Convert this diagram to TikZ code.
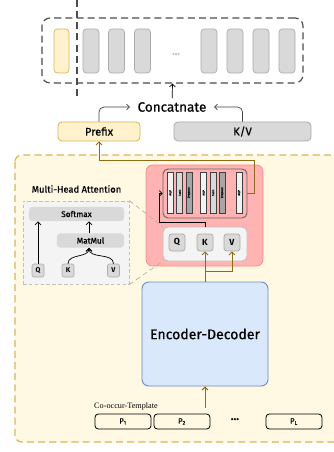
\documentclass[tikz,border=0pt]{standalone}
\usepackage{fontspec}
\setmainfont{Fira Sans}[UprightFeatures={FakeBold=0.6}]
\newfontfamily\timesfont{Liberation Serif}
\usepackage{tikz}
\usetikzlibrary{arrows.meta,positioning}
\usepackage{xcolor}
\definecolor{ylfill}{HTML}{FFF2CC}
\definecolor{yldraw}{HTML}{D6B656}
\definecolor{regfill}{HTML}{FFF8E3}
\definecolor{gyfill}{HTML}{D9D9D9}
\definecolor{gydraw}{HTML}{ABABAB}
\definecolor{rdfill}{HTML}{FFB3B3}
\definecolor{rddraw}{HTML}{FF8A8A}
\definecolor{blfill}{HTML}{DAE8FC}
\definecolor{bldraw}{HTML}{6C8EBF}
\definecolor{brown}{HTML}{8F6B14}
\definecolor{lgfill}{HTML}{F4F4F4}

\begin{document}
\begin{tikzpicture}[
  x=0.03cm, y=-0.03cm,
  slot/.style={draw=gydraw, fill=gyfill, rounded corners=1mm, line width=0.6pt,
               minimum width=0.48cm, minimum height=1.32cm},
  hlslot/.style={slot, draw=yldraw, fill=ylfill, minimum width=0.45cm},
  ybox/.style={draw=yldraw, fill=ylfill, rounded corners=1.2mm, line width=0.7pt,
               minimum height=0.57cm, font=\fontsize{9.5}{11}\selectfont},
  gbox/.style={draw=gydraw, fill=gyfill, rounded corners=1.2mm, line width=0.7pt,
               minimum height=0.57cm, font=\fontsize{9.5}{11}\selectfont},
  bar/.style={draw=black!75, line width=0.4pt, rotate=90, inner sep=0pt,
              minimum width=1.23cm, minimum height=0.18cm,
              font=\fontsize{2.5}{3}\selectfont},
  qbox/.style={draw=gydraw, fill=gyfill, rounded corners=0.8mm, line width=0.6pt,
               minimum width=0.48cm, minimum height=0.51cm, inner sep=0pt,
               font=\fontsize{7.5}{8}\selectfont\bfseries},
  sbox/.style={fill=gyfill, rounded corners=1mm, inner sep=0pt,
               minimum height=0.43cm, font=\fontsize{7}{8}\selectfont},
  tbox/.style={draw=gydraw, fill=gyfill, rounded corners=0.6mm, line width=0.5pt,
               minimum width=0.36cm, minimum height=0.39cm, inner sep=0pt,
               font=\fontsize{6}{7}\selectfont\bfseries},
  pbox/.style={draw, line width=0.7pt, rounded corners=1mm, inner sep=0pt,
               minimum width=1.68cm, minimum height=0.45cm,
               font=\fontsize{6.5}{7}\selectfont},
  arr/.style={draw, line width=0.6pt, -{Straight Barb[length=2.5pt,width=5pt]}},
  barr/.style={arr, brown, line width=0.8pt}
]
\useasboundingbox (0,0) rectangle (333,452);

\draw[yldraw, fill=regfill, line width=1pt, dash pattern=on 6pt off 3.5pt,
  rounded corners=2mm] (15,155) rectangle (350,442);

\node[draw=black!70, line width=1pt, dash pattern=on 6pt off 3.5pt,
  rounded corners=2.4mm, minimum width=7.83cm, minimum height=1.95cm]
  (seq) at (172.5,50.5) {};
\node[hlslot] (s0) at (61.5,51) {};
\foreach \x [count=\i] in {91,116.5,142.5,209,235,261,287}
  \node[slot] (s\i) at (\x,51) {};
\node[text=black!35, font=\small] (dots) at (176,54) {...};
\draw[black!70, line width=1pt, dash pattern=on 6pt off 3.5pt] (77,0) -- (77,99);

\node[font=\fontsize{11.5}{13}\selectfont] (concat) at (172,107) {Concatnate};
\node[ybox, minimum width=2.46cm] (prefix) at (99,131.5) {Prefix};
\node[gbox, minimum width=4.11cm] (kv) at (242.5,131.5) {K/V};

\draw[arr] (concat) -- (seq.south);
\draw[arr, black!75, rounded corners=1.5mm] (prefix.north) |- ([xshift=-3pt]concat.west);
\draw[arr, black!75, rounded corners=1.5mm] (kv.north) |- ([xshift=3pt]concat.east);

\node[font=\fontsize{8}{9}\selectfont] (mhatitle) at (76.5,189) {Multi-Head Attention};
\node[draw=black!25, fill=lgfill, dash pattern=on 3pt off 2pt, line width=0.7pt,
  minimum width=3.18cm, minimum height=2.49cm] (panel) at (76,242.5) {};
\node[sbox, minimum width=2.85cm] (soft) at (76.5,214) {Softmax};
\node[sbox, minimum width=2.01cm] (matmul) at (90.5,240.5) {MatMul};
\node[tbox] (q2) at (38,270.5) {Q};
\node[tbox] (k2) at (68,270.5) {K};
\node[tbox] (v2) at (113.5,270.5) {V};
\draw[arr] (q2.north) -- (q2 |- soft.south);
\draw[arr] (matmul.north -| 89,0) -- (soft.south -| 89,0);
\draw[arr] (k2.north) to[out=90, in=-90] (matmul.south -| 89,0);
\draw[arr] (v2.north) to[out=90, in=-90] (matmul.south -| 89,0);

\node[draw=rddraw, fill=rdfill, rounded corners=2mm, line width=0.7pt,
  minimum width=3.51cm, minimum height=3.03cm] (prefixnet) at (204.5,215.5) {};
\node[draw=black!60, fill=rdfill, rounded corners=1.5mm, line width=0.8pt,
  minimum width=2.52cm, minimum height=1.47cm] (stack) at (205,193.5) {};
\foreach \x/\c/\t [count=\i] in {170.3/white!95!black/MLP, 179.7/gyfill/Tanh,
    189/black!35/Dropout, 203.7/white!95!black/MLP, 213/gyfill/Tanh,
    222.3/black!35/Dropout, 239/white!95!black/MLP}
  \node[bar, fill=\c] (bar\i) at (\x,192.8) {\t};
\node[draw=black!25, fill=lgfill, rounded corners=1.5mm, line width=0.7pt,
  minimum width=2.52cm, minimum height=1.02cm] (qkv) at (205,244) {};
\node[qbox] (q) at (177,242.5) {Q};
\node[qbox] (k) at (205,242.5) {K};
\node[qbox] (v) at (232,242.5) {V};

\draw[black!30, dash pattern=on 4pt off 3pt, line width=0.6pt] (panel.north east) -- (qkv.north west);
\draw[black!30, dash pattern=on 4pt off 3pt, line width=0.6pt] (panel.south east) -- (qkv.south west);

\coordinate (kturn) at (159,222);
\draw[arr, line width=0.5pt] (k |- qkv.north) |- (kturn) |- (stack.west);
\coordinate (back) at (254,160);
\draw[barr] (stack.east) -| (back) -| (prefix.south);

\node[draw=bldraw, fill=blfill, rounded corners=2mm, line width=0.8pt,
  minimum width=3.78cm, minimum height=3.12cm, font=\fontsize{12}{14}\selectfont]
  (encdec) at (205,334) {Encoder-Decoder};
\draw[barr] (encdec.north) -- (k.south);
\coordinate (split) at (205,271);
\draw[barr] (split) -| (v.south);

\node[anchor=west, inner sep=0pt, font=\timesfont\fontsize{7}{8}\selectfont]
  (tmpl) at (94,407) {Co-occur-Template};
\node[pbox] (p1) at (123,421.5) {P\textsubscript{1}};
\node[pbox] (p2) at (182,421.5) {P\textsubscript{2}};
\node[font=\bfseries] (pdots) at (235,420) {...};
\node[pbox] (pl) at (294,421.5) {P\textsubscript{L}};
\coordinate (tin) at (205,408);
\draw[barr] (tin) -- (encdec.south);
\end{tikzpicture}
\end{document}
